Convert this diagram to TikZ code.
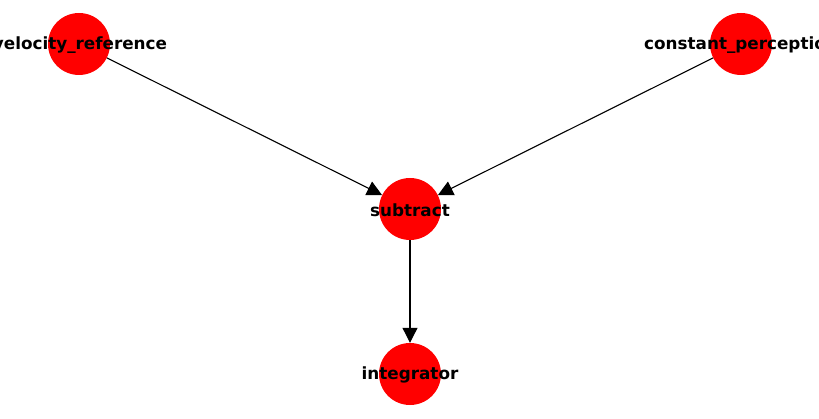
\documentclass[tikz,border=0pt]{standalone}
\usepackage{fontspec}
\setmainfont{DejaVu Sans}
\usetikzlibrary{arrows.meta}

\tikzset{
  block/.style={circle, fill=red, draw=none, minimum size=62pt, inner sep=0pt},
  tagtext/.style={font=\bfseries\fontsize{16.8}{19}\selectfont, inner sep=0pt},
  wire/.style={line width=1.1pt, -{Triangle[length=15pt,width=15pt]}}
}

\begin{document}
\begin{tikzpicture}[x=1pt,y=-1pt]

\useasboundingbox (0,0) rectangle (819,419);

\node[block] (velref) at (79,44) {};
\node[block] (constp) at (741,44) {};
\node[block] (sub) at (410,209) {};
\node[block] (integ) at (410,374) {};

\draw[wire] (velref) -- (sub);
\draw[wire] (constp) -- (sub);
\draw[wire] (sub) -- (integ);

\node[tagtext] (velreftext) at (80,45) {velocity\_reference};
\node[tagtext] (constptext) at (741,45) {constant\_perception};
\node[tagtext] (subtext) at (410,210) {subtract};
\node[tagtext] (integtext) at (410,375) {integrator};

\end{tikzpicture}
\end{document}
